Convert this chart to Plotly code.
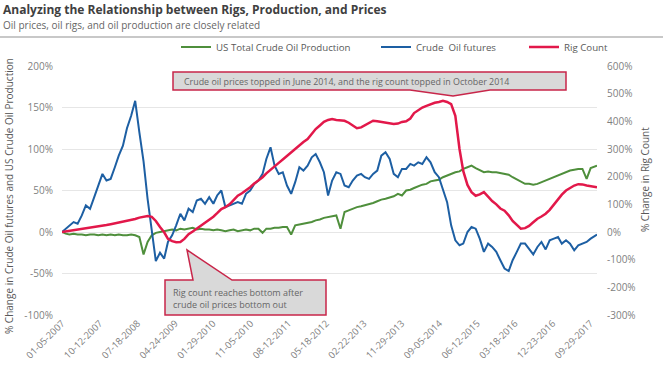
import pandas as pd
import plotly.graph_objects as go

# ---------------- data ----------------
# monthly sampling: first point 2007-01-05, then the 1st of each month, last point 2017-11-17
dates = ([pd.Timestamp("2007-01-05")]
         + list(pd.date_range("2007-02-01", "2017-10-01", freq="MS"))
         + [pd.Timestamp("2017-11-17")])

# % change in crude oil futures (left axis)
oil_futures = [
    0, 4, 8, 12, 10, 20, 32, 28, 42, 55, 70, 62,            # 2007
    64, 78, 92, 104, 125, 140, 158, 120, 85, 40, 5, -35,    # 2008
    -25, -32, -12, -4, 8, 22, 14, 28, 24, 38, 40, 34,       # 2009
    42, 34, 44, 50, 30, 32, 34, 36, 34, 46, 50, 58,         # 2010
    62, 70, 88, 102, 80, 70, 72, 56, 46, 60, 78, 74,        # 2011
    80, 90, 94, 84, 72, 44, 62, 72, 70, 56, 54, 62,         # 2012
    68, 70, 66, 64, 70, 74, 92, 96, 88, 70, 66, 76,         # 2013
    76, 82, 80, 84, 82, 90, 84, 72, 66, 50, 36, 8,          # 2014
    -10, -16, -14, 0, 6, 4, -8, -24, -14, -18, -24, -34,    # 2015
    -44, -47, -34, -24, -14, -14, -20, -27, -18, -12, -21, -10,  # 2016
    -8, -6, -14, -10, -14, -22, -16, -14, -12, -8, -3,      # 2017
]

# % change in rig count (right axis)
rig_count = [
    0, 2, 4, 6, 8, 10, 12, 14, 17, 20, 23, 25,
    28, 31, 34, 36, 40, 44, 47, 52, 56, 58, 55, 40,
    18, -1, -25, -33, -37, -36, -25, -8, 2, 12, 22, 35,
    45, 55, 68, 83, 90, 100, 115, 131, 140, 150, 162, 175,
    185, 198, 212, 226, 239, 250, 262, 275, 289, 300, 312, 325,
    336, 355, 372, 385, 398, 405, 408, 405, 403, 402, 395, 385,
    375, 378, 385, 395, 402, 400, 398, 396, 392, 390, 392, 398,
    400, 410, 430, 440, 450, 456, 462, 467, 470, 474, 470, 462,
    420, 300, 220, 170, 144, 131, 136, 144, 128, 112, 100, 85,
    77, 60, 40, 25, 12, 14, 22, 35, 48, 56, 66, 80,
    100, 118, 135, 150, 160, 168, 173, 172, 168, 165, 162,
]

# % change in US total crude oil production (left axis)
us_production = [
    0, -2, -3, -2, -3, -3, -4, -3, -3, -4, -3, -4,
    -3, -4, -3, -4, -4, -3, -4, -6, -27, -12, -4, -1,
    0, 1, 2, 3, 2, 4, 3, 4, 5, 3, 4, 3,
    3, 2, 3, 2, 1, 2, 3, 1, 2, 3, 2, 4,
    4, -1, 4, 4, 5, 5, 6, 6, -3, 8, 9, 10,
    11, 12, 14, 15, 17, 18, 19, 20, 4, 24, 26, 28,
    30, 31, 32, 34, 35, 37, 39, 40, 42, 43, 46, 44,
    50, 51, 53, 55, 57, 58, 61, 62, 63, 66, 68, 70,
    72, 73, 76, 78, 80, 77, 75, 72, 73, 72, 72, 71,
    70, 69, 66, 63, 60, 58, 58, 57, 58, 60, 62, 64,
    66, 68, 70, 72, 74, 75, 76, 76, 64, 77, 80,
]

tick_labels = ["01-05-2007", "10-12-2007", "07-18-2008", "04-24-2009", "01-29-2010",
               "11-05-2010", "08-12-2011", "05-18-2012", "02-22-2013", "11-29-2013",
               "09-05-2014", "06-12-2015", "03-18-2016", "12-23-2016", "09-29-2017"]
left_ticks = [-100, -50, 0, 50, 100, 150, 200]
right_ticks = [-300, -200, -100, 0, 100, 200, 300, 400, 500, 600]

series_names = ["US Total Crude Oil Production", "Crude\u00a0 Oil futures", "Rig Count"]
series_colors = ["#4f8f3c", "#1d5fa3", "#e2184a"]

# ---------------- layout geometry ----------------
W, H = 663, 372
ML, MR, MT, MB = 62, 66, 66, 57
PW, PH = W - ML - MR, H - MT - MB


def px(x):
    return (x - ML) / PW


def py(y):
    return (H - MB - y) / PH


FONT = "Open Sans"
BOX_FILL = "#d9d9d9"
BOX_LINE = "#c8264a"

fig = go.Figure()
fig.add_trace(go.Scatter(x=dates, y=us_production, name=series_names[0], mode="lines",
                         line=dict(color=series_colors[0], width=2), legend="legend"))
fig.add_trace(go.Scatter(x=dates, y=oil_futures, name=series_names[1], mode="lines",
                         line=dict(color=series_colors[1], width=2), legend="legend2"))
fig.add_trace(go.Scatter(x=dates, y=rig_count, name=series_names[2], mode="lines",
                         line=dict(color=series_colors[2], width=2.5), yaxis="y2",
                         legend="legend3"))

tickvals = [pd.to_datetime(t, format="%m-%d-%Y") for t in tick_labels]


def legend_at(text_left):
    return dict(orientation="h", x=px(text_left - 36), xanchor="left", y=py(47),
                yanchor="middle", font=dict(size=9.7, color="#595959"), itemwidth=30,
                bgcolor="rgba(0,0,0,0)")


fig.update_layout(
    width=W, height=H,
    margin=dict(l=ML, r=MR, t=MT, b=MB, autoexpand=False),
    paper_bgcolor="white", plot_bgcolor="white",
    font=dict(family=FONT, color="#7f7f7f", size=10),
    showlegend=True,
    legend=legend_at(212),
    legend2=legend_at(412),
    legend3=legend_at(560),
    xaxis=dict(type="date", range=[dates[0], dates[-1]], tickvals=tickvals,
               ticktext=tick_labels, tickangle=-45, showgrid=False, zeroline=False,
               showline=False, ticks="", tickfont=dict(size=9.5, color="#7f7f7f")),
    yaxis=dict(range=[-100, 200], tickvals=left_ticks,
               ticktext=[f"{v}%" for v in left_ticks],
               showgrid=True, gridcolor="#e6e6e6", gridwidth=1, zeroline=False,
               showline=False, ticks="", ticklabelstandoff=8,
               tickfont=dict(size=10, color="#7f7f7f")),
    yaxis2=dict(range=[-300, 600], tickvals=right_ticks,
                ticktext=[f"{v}%" for v in right_ticks],
                overlaying="y", side="right", showgrid=False, zeroline=False,
                showline=False, ticks="", ticklabelstandoff=9,
                tickfont=dict(size=10, color="#7f7f7f")),
)

shapes = [
    # rule under the subtitle
    dict(type="line", xref="paper", yref="paper", x0=px(0), x1=px(W), y0=py(37), y1=py(37),
         line=dict(color="#c8c8c8", width=2)),
    # callout 1 (box with pointer down)
    dict(type="path", xref="paper", yref="paper", layer="above",
         path=(f"M {px(173)},{py(72)} L {px(566)},{py(72)} L {px(566)},{py(90)} "
               f"L {px(490)},{py(90)} L {px(453)},{py(96)} L {px(410)},{py(90)} "
               f"L {px(173)},{py(90)} Z"),
         fillcolor=BOX_FILL, line=dict(color=BOX_LINE, width=1.5)),
    # callout 2 (box with pointer up)
    dict(type="path", xref="paper", yref="paper", layer="above",
         path=(f"M {px(165)},{py(280)} L {px(193)},{py(280)} L {px(187)},{py(250)} "
               f"L {px(232)},{py(280)} L {px(326)},{py(280)} L {px(326)},{py(315)} "
               f"L {px(165)},{py(315)} Z"),
         fillcolor=BOX_FILL, line=dict(color=BOX_LINE, width=1.5)),
]
fig.update_layout(shapes=shapes)

annotations = [
    dict(text="<b>Analyzing the Relationship between Rigs, Production, and Prices</b>",
         x=px(1), y=py(9), xanchor="left", yanchor="middle", showarrow=False,
         font=dict(size=12, color="#404040")),
    dict(text="Oil prices, oil rigs, and oil production are closely related",
         x=px(1), y=py(25), xanchor="left", yanchor="middle", showarrow=False,
         font=dict(size=10, color="#666666")),
    dict(text="% Change in Crude Oil futures and US Crude Oil Production",
         x=px(9), y=py(196), xanchor="center", yanchor="middle", textangle=-90,
         showarrow=False, font=dict(size=10, color="#595959")),
    dict(text="% Change in Rig Count",
         x=px(645), y=py(180), xanchor="center", yanchor="middle", textangle=-90,
         showarrow=False, font=dict(size=10, color="#595959")),
    dict(text="Crude oil prices topped in June 2014, and the rig count topped in October 2014",
         x=px(182), y=py(81), xanchor="left", yanchor="middle", showarrow=False,
         font=dict(size=8.9, color="#666666")),
    dict(text="Rig count reaches bottom after<br>crude oil prices bottom out",
         x=px(171), y=py(298), xanchor="left", yanchor="middle", align="left",
         showarrow=False, font=dict(size=9, color="#666666")),
]
for a in annotations:
    a.setdefault("xref", "paper")
    a.setdefault("yref", "paper")
fig.update_layout(annotations=annotations)

fig.write_html("out.html", config={"displayModeBar": False},
               post_script="document.body.style.margin='0px';")
